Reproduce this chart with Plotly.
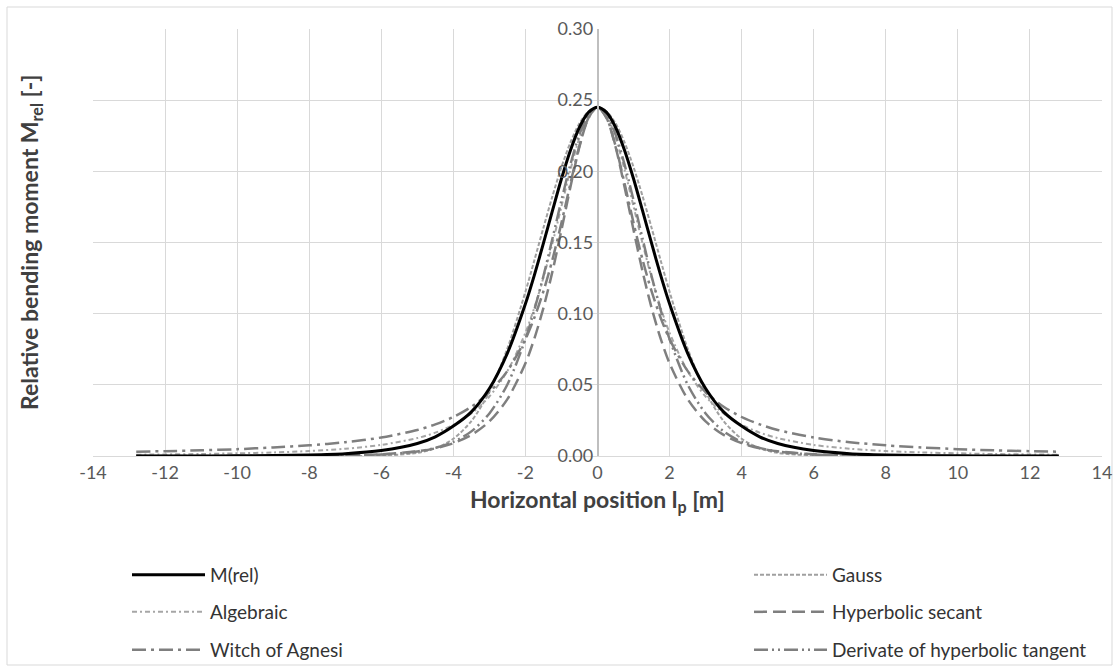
import plotly.graph_objects as go

# Horizontal position l_p [m]
x_pos = [-12.8, -12, -11, -10, -9, -8, -7, -6, -5, -4.5, -4, -3.5, -3, -2.5, -2, -1.75, -1.5, -1.25, -1, -0.75, -0.5, -0.25,
         0, 0.25, 0.5, 0.75, 1, 1.25, 1.5, 1.75, 2, 2.5, 3, 3.5, 4, 4.5, 5, 6, 7, 8, 9, 10, 11, 12, 12.8]

m_rel = [0.00001, 0.00002, 0.00005, 0.0001, 0.0003, 0.0007, 0.0016, 0.0038, 0.0088, 0.0135, 0.021, 0.031, 0.0474, 0.0723,
         0.1069, 0.1273, 0.1495, 0.1724, 0.1948, 0.2149, 0.2310, 0.2414,
         0.245, 0.2414, 0.2310, 0.2149, 0.1948, 0.1724, 0.1495, 0.1273, 0.1069, 0.0723, 0.0474, 0.031, 0.021, 0.0135,
         0.0088, 0.0038, 0.0016, 0.0007, 0.0003, 0.0001, 0.00005, 0.00002, 0.00001]

gauss = [0, 0, 0, 0, 0, 0, 0, 0.0003, 0.0022, 0.0054, 0.0121, 0.0245, 0.0450, 0.0756,
         0.1154, 0.1377, 0.1604, 0.1826, 0.2030, 0.2204, 0.2338, 0.2421,
         0.245, 0.2421, 0.2338, 0.2204, 0.2030, 0.1826, 0.1604, 0.1377, 0.1154, 0.0756, 0.0450, 0.0245, 0.0121, 0.0054,
         0.0022, 0.0003, 0, 0, 0, 0, 0, 0, 0]

algebraic = [0.0009, 0.0011, 0.0014, 0.0019, 0.0025, 0.0035, 0.0051, 0.0078, 0.0126, 0.0164, 0.0219, 0.0299, 0.0418, 0.0597,
             0.0866, 0.1044, 0.1254, 0.1494, 0.1753, 0.2011, 0.2237, 0.2394,
             0.245, 0.2394, 0.2237, 0.2011, 0.1753, 0.1494, 0.1254, 0.1044, 0.0866, 0.0597, 0.0418, 0.0299, 0.0219, 0.0164,
             0.0126, 0.0078, 0.0051, 0.0035, 0.0025, 0.0019, 0.0014, 0.0011, 0.0009]

hyp_secant = [0, 0, 0.00001, 0.00002, 0.0001, 0.0002, 0.0005, 0.0012, 0.0033, 0.0054, 0.0090, 0.0148, 0.0243, 0.0400,
              0.0651, 0.0827, 0.1041, 0.1297, 0.1588, 0.1892, 0.2173, 0.2375,
              0.245, 0.2375, 0.2173, 0.1892, 0.1588, 0.1297, 0.1041, 0.0827, 0.0651, 0.0400, 0.0243, 0.0148, 0.0090, 0.0054,
              0.0033, 0.0012, 0.0005, 0.0002, 0.0001, 0.00002, 0.00001, 0, 0]

witch = [0.0030, 0.0034, 0.0040, 0.0048, 0.0060, 0.0075, 0.0097, 0.0130, 0.0183, 0.0222, 0.0274, 0.0346, 0.0448, 0.0598,
         0.0821, 0.0973, 0.1158, 0.1380, 0.1638, 0.1916, 0.2180, 0.2376,
         0.245, 0.2376, 0.2180, 0.1916, 0.1638, 0.1380, 0.1158, 0.0973, 0.0821, 0.0598, 0.0448, 0.0346, 0.0274, 0.0222,
         0.0183, 0.0130, 0.0097, 0.0075, 0.0060, 0.0048, 0.0040, 0.0034, 0.0030]

deriv_tanh = [0, 0, 0, 0, 0, 0.0001, 0.0003, 0.0010, 0.0032, 0.0057, 0.0099, 0.0173, 0.0299, 0.0502,
              0.0821, 0.1029, 0.1265, 0.1528, 0.1797, 0.2049, 0.2260, 0.2401,
              0.245, 0.2401, 0.2260, 0.2049, 0.1797, 0.1528, 0.1265, 0.1029, 0.0821, 0.0502, 0.0299, 0.0173, 0.0099, 0.0057,
              0.0032, 0.0010, 0.0003, 0.0001, 0, 0, 0, 0, 0]

series_names = ["M(rel)", "Gauss", "Algebraic", "Hyperbolic secant", "Witch of Agnesi", "Derivate of hyperbolic tangent"]
x_ticks = list(range(-14, 15, 2))
y_ticks = [0.00, 0.05, 0.10, 0.15, 0.20, 0.25, 0.30]

FONT = "Lato, 'Open Sans', sans-serif"

styles = [
    dict(color="#000000", width=3, dash="solid"),
    dict(color="#a0a0a0", width=2, dash="4px,2px"),
    dict(color="#a6a6a6", width=2, dash="5px,3px,2px,3px"),
    dict(color="#7f7f7f", width=2.5, dash="13px,6px"),
    dict(color="#7f7f7f", width=2.5, dash="14px,5px,3px,5px"),
    dict(color="#7f7f7f", width=2.5, dash="14px,4px,2px,4px,2px,4px"),
]
data = [m_rel, gauss, algebraic, hyp_secant, witch, deriv_tanh]
legend_ids = ["legend", "legend2", "legend3", "legend4", "legend5", "legend6"]

W, H = 1120, 671
ml, mr, mt, mb = 93, 18, 29, 215
pw = W - ml - mr
ph = H - mt - mb


def px_x(px):
    return (px - ml) / pw


def px_y(py):
    return (H - mb - py) / ph


fig = go.Figure()
order = [1, 2, 3, 4, 5, 0]
for i in order:
    fig.add_trace(go.Scatter(
        x=x_pos, y=data[i], name=series_names[i], mode="lines",
        line=dict(color=styles[i]["color"], width=styles[i]["width"], dash=styles[i]["dash"],
                  shape="spline", smoothing=0.8),
        legend=legend_ids[i], showlegend=True, hoverinfo="skip",
    ))

legend_common = dict(orientation="h", xanchor="left", yanchor="middle", bgcolor="rgba(0,0,0,0)",
                     font=dict(family=FONT, size=19, color="#333333"), visible=True, itemwidth=73)
col_x = [170, 792]
row_y = [575, 612, 650]
legend_layout = {}
for k, lid in enumerate(legend_ids):
    legend_layout[lid] = dict(x=px_x(col_x[k % 2] - 43), y=px_y(row_y[k // 2]), **legend_common)

fig.update_layout(
    width=W, height=H,
    showlegend=True,
    margin=dict(l=ml, r=mr, t=mt, b=mb, autoexpand=False),
    paper_bgcolor="white", plot_bgcolor="white",
    font=dict(family=FONT, color="#595959"),
    **legend_layout,
    xaxis=dict(range=[-14, 14], tickvals=x_ticks, ticktext=[str(v) for v in x_ticks],
               showgrid=True, gridcolor="#d9d9d9", gridwidth=1, zeroline=False,
               showline=True, linecolor="#d9d9d9", linewidth=1, mirror=False,
               ticks="", tickfont=dict(family=FONT, size=18, color="#595959")),
    yaxis=dict(range=[0, 0.30], tickvals=y_ticks, ticktext=[f"{v:.2f}" for v in y_ticks],
               anchor="free", position=0.5, showgrid=True, gridcolor="#d9d9d9", gridwidth=1,
               zeroline=False, showline=True, linecolor="#bfbfbf", linewidth=1.5,
               ticks="", tickfont=dict(family=FONT, size=18, color="#595959")),
    shapes=[dict(type="rect", xref="paper", yref="paper",
                 x0=px_x(7), x1=px_x(1112), y0=px_y(665), y1=px_y(7),
                 line=dict(color="#d9d9d9", width=1), fillcolor="rgba(0,0,0,0)", layer="below")],
    annotations=[
        dict(text="<b>Horizontal position l<sub>p</sub> [m]</b>", xref="paper", yref="paper",
             x=px_x(597.5), y=px_y(500), showarrow=False, xanchor="center", yanchor="middle",
             font=dict(family=FONT, size=23, color="#404040")),
        dict(text="<b>Relative bending moment M<sub>rel</sub> [-]</b>", xref="paper", yref="paper",
             x=px_x(30), y=px_y(242), showarrow=False, xanchor="center", yanchor="middle", textangle=-90,
             font=dict(family=FONT, size=23, color="#404040")),
    ],
)

fig.write_html("out.html")
